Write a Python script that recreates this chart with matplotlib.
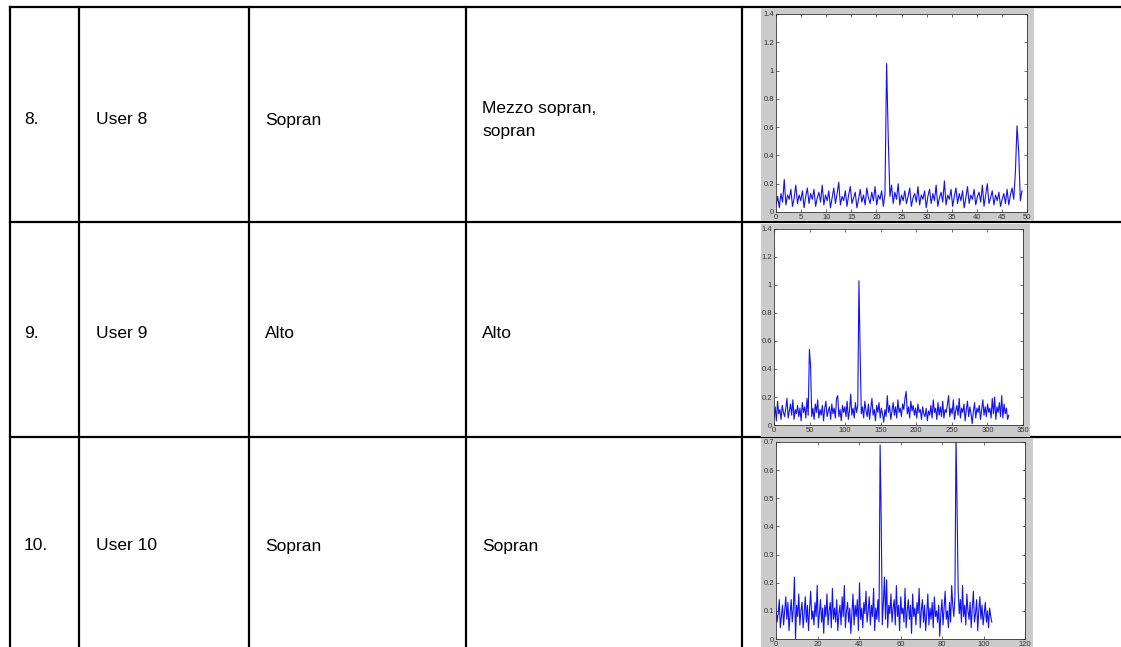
import matplotlib
matplotlib.use('Agg')
import matplotlib.pyplot as plt
from matplotlib.lines import Line2D
from matplotlib.patches import Rectangle
from matplotlib.ticker import FormatStrFormatter
import numpy as np

W, H = 1121, 647

# table contents
row_numbers = ['8.', '9.', '10.']
users = ['User 8', 'User 9', 'User 10']
voice_actual = ['Sopran', 'Alto', 'Sopran']
voice_detected = ['Mezzo sopran,\nsopran', 'Alto', 'Sopran']

# spectra
spec8 = [
    0.04, 0.11, 0.03, 0.13, 0.07, 0.23, 0.05, 0.12, 0.09, 0.16,
    0.04, 0.10, 0.19, 0.06, 0.12, 0.08, 0.15, 0.03, 0.11, 0.17,
    0.06, 0.13, 0.09, 0.16, 0.04, 0.10, 0.14, 0.07, 0.19, 0.05,
    0.12, 0.08, 0.15, 0.03, 0.10, 0.17, 0.06, 0.13, 0.21, 0.05,
    0.11, 0.08, 0.15, 0.04, 0.12, 0.18, 0.06, 0.10, 0.14, 0.03,
    0.09, 0.16, 0.07, 0.12, 0.05, 0.17, 0.10, 0.06, 0.14, 0.08,
    0.18, 0.05, 0.12, 0.09, 0.15, 0.04, 0.13, 1.05, 0.52, 0.11,
    0.19, 0.06, 0.14, 0.09, 0.20, 0.05, 0.12, 0.08, 0.15, 0.06,
    0.11, 0.17, 0.04, 0.10, 0.13, 0.07, 0.18, 0.05, 0.12, 0.09,
    0.15, 0.03, 0.11, 0.16, 0.06, 0.13, 0.08, 0.19, 0.04, 0.10,
    0.14, 0.07, 0.22, 0.05, 0.12, 0.09, 0.16, 0.04, 0.11, 0.17,
    0.06, 0.13, 0.08, 0.15, 0.03, 0.10, 0.18, 0.06, 0.12, 0.09,
    0.16, 0.05, 0.11, 0.14, 0.07, 0.19, 0.04, 0.12, 0.20, 0.06,
    0.10, 0.15, 0.05, 0.12, 0.08, 0.14, 0.04, 0.09, 0.13, 0.06,
    0.16, 0.05, 0.12, 0.17, 0.09, 0.28, 0.61, 0.43, 0.08, 0.15,
]
spec9 = [
    0.05, 0.13, 0.03, 0.17, 0.08, 0.11, 0.04, 0.14, 0.09, 0.06,
    0.12, 0.19, 0.05, 0.10, 0.15, 0.07, 0.18, 0.04, 0.11, 0.08,
    0.14, 0.06, 0.12, 0.03, 0.16, 0.09, 0.13, 0.05, 0.19, 0.07,
    0.54, 0.42, 0.06, 0.12, 0.04, 0.15, 0.09, 0.18, 0.05, 0.11,
    0.07, 0.14, 0.03, 0.12, 0.17, 0.06, 0.10, 0.13, 0.04, 0.15,
    0.08, 0.12, 0.05, 0.19, 0.21, 0.06, 0.11, 0.03, 0.14, 0.09,
    0.13, 0.06, 0.17, 0.04, 0.10, 0.22, 0.07, 0.12, 0.05, 0.16,
    0.09, 0.14, 1.03, 0.53, 0.08, 0.13, 0.05, 0.17, 0.10, 0.06,
    0.15, 0.04, 0.12, 0.19, 0.07, 0.11, 0.03, 0.14, 0.09, 0.16,
    0.05, 0.12, 0.08, 0.02, 0.11, 0.06, 0.21, 0.09, 0.14, 0.04,
    0.10, 0.16, 0.07, 0.13, 0.05, 0.18, 0.09, 0.12, 0.06, 0.15,
    0.11, 0.19, 0.24, 0.08, 0.13, 0.05, 0.17, 0.10, 0.14, 0.07,
    0.12, 0.05, 0.15, 0.09, 0.11, 0.04, 0.13, 0.08, 0.06, 0.12,
    0.03, 0.10, 0.07, 0.14, 0.05, 0.18, 0.09, 0.12, 0.04, 0.16,
    0.07, 0.13, 0.06, 0.17, 0.05, 0.11, 0.09, 0.15, 0.21, 0.06,
    0.12, 0.08, 0.18, 0.04, 0.10, 0.14, 0.07, 0.19, 0.05, 0.12,
    0.09, 0.15, 0.03, 0.11, 0.17, 0.06, 0.13, 0.08, 0.01, 0.10,
    0.16, 0.05, 0.12, 0.09, 0.14, 0.04, 0.11, 0.18, 0.07, 0.13,
    0.06, 0.15, 0.09, 0.12, 0.05, 0.19, 0.08, 0.20, 0.04, 0.13,
    0.09, 0.16, 0.06, 0.21, 0.05, 0.15, 0.08, 0.12, 0.04, 0.07,
]
spec10 = [
    0.11, 0.06, 0.09, 0.14, 0.04, 0.08, 0.12, 0.05, 0.10, 0.15,
    0.07, 0.13, 0.03, 0.09, 0.14, 0.06, 0.11, 0.22, 0.00, 0.12,
    0.08, 0.16, 0.05, 0.10, 0.13, 0.04, 0.09, 0.15, 0.06, 0.12,
    0.03, 0.11, 0.17, 0.07, 0.10, 0.05, 0.13, 0.08, 0.19, 0.04,
    0.09, 0.14, 0.06, 0.11, 0.02, 0.12, 0.08, 0.16, 0.05, 0.10,
    0.13, 0.04, 0.18, 0.07, 0.11, 0.06, 0.14, 0.03, 0.09, 0.12,
    0.05, 0.15, 0.08, 0.19, 0.04, 0.10, 0.13, 0.06, 0.11, 0.02,
    0.09, 0.16, 0.05, 0.12, 0.08, 0.14, 0.03, 0.20, 0.07, 0.11,
    0.04, 0.13, 0.09, 0.17, 0.06, 0.10, 0.15, 0.05, 0.12, 0.08,
    0.18, 0.03, 0.11, 0.07, 0.14, 0.06, 0.69, 0.43, 0.05, 0.13,
    0.22, 0.07, 0.21, 0.04, 0.12, 0.09, 0.16, 0.06, 0.11, 0.14,
    0.05, 0.19, 0.08, 0.12, 0.03, 0.15, 0.09, 0.11, 0.06, 0.18,
    0.04, 0.10, 0.14, 0.07, 0.12, 0.02, 0.16, 0.08, 0.11, 0.05,
    0.13, 0.09, 0.18, 0.04, 0.10, 0.14, 0.06, 0.12, 0.03, 0.09,
    0.16, 0.05, 0.11, 0.07, 0.13, 0.04, 0.15, 0.08, 0.10, 0.06,
    0.12, 0.01, 0.09, 0.14, 0.05, 0.11, 0.17, 0.07, 0.10, 0.04,
    0.13, 0.06, 0.19, 0.12, 0.08, 0.15, 0.72, 0.46, 0.17, 0.09,
    0.14, 0.06, 0.19, 0.08, 0.12, 0.05, 0.16, 0.10, 0.07, 0.13,
    0.04, 0.11, 0.17, 0.06, 0.09, 0.14, 0.03, 0.10, 0.15, 0.07,
    0.12, 0.05, 0.09, 0.13, 0.06, 0.10, 0.04, 0.11, 0.08, 0.06,
]
spectra = [spec8, spec9, spec10]
x_end = [49, 330, 104]
x_lims = [(0, 50), (0, 350), (0, 120)]
x_steps = [5, 50, 20]
y_lims = [(0, 1.4), (0, 1.4), (0, 0.7)]
y_steps = [0.2, 0.2, 0.1]


def fx(px):
    return px / W


def fy(py):
    return 1 - py / H


fig = plt.figure(figsize=(W / 100, H / 100), dpi=100)
fig.patch.set_facecolor('white')
plt.rcParams['font.family'] = ['Liberation Sans', 'DejaVu Sans']

# table grid
lw = 1.6
for y in [7, 222, 437]:
    fig.add_artist(Line2D([fx(10), fx(1121)], [fy(y), fy(y)], color='black', lw=lw))
for x in [10, 79, 249, 466, 742]:
    fig.add_artist(Line2D([fx(x), fx(x)], [fy(7), fy(647)], color='black', lw=lw))

row_centers = [120, 333, 546]
col_x = [24, 96, 265, 482]
for i, yc in enumerate(row_centers):
    cells = [row_numbers[i], users[i], voice_actual[i], voice_detected[i]]
    for cx, txt in zip(col_x, cells):
        fig.text(fx(cx), fy(yc), txt, ha='left', va='center', fontsize=12.5,
                 linespacing=1.7, color='black')

# embedded matlab-style plots: gray frame and axes box (pixels)
frames = [(761, 8, 1034, 221), (761, 224, 1030, 437), (761, 438, 1033, 647)]
boxes = [(776, 14, 1027, 212), (774, 229, 1023, 425), (776, 442, 1025, 639)]

for i in range(3):
    l, t, r, b = frames[i]
    fig.add_artist(Rectangle((fx(l), fy(b)), fx(r - l), (b - t) / H,
                             facecolor='#cbcbcb', edgecolor='none', zorder=2))
    l, t, r, b = boxes[i]
    ax = fig.add_axes([fx(l), fy(b), fx(r - l), (b - t) / H], zorder=3)
    y = np.array(spectra[i])
    x = np.linspace(0, x_end[i], len(y))
    ax.plot(x, y, color='#1010ff', lw=0.8)
    ax.set_xlim(*x_lims[i])
    ax.set_ylim(*y_lims[i])
    ax.set_xticks(np.arange(x_lims[i][0], x_lims[i][1] + 0.001, x_steps[i]))
    ax.set_yticks(np.round(np.arange(0, y_lims[i][1] + 0.001, y_steps[i]), 2))
    ax.xaxis.set_major_formatter(FormatStrFormatter('%g'))
    ax.yaxis.set_major_formatter(FormatStrFormatter('%g'))
    ax.tick_params(direction='in', length=2.5, width=0.5, labelsize=5.5,
                   colors='#333333', top=True, right=True, pad=1.5)
    for s in ax.spines.values():
        s.set_color('#333333')
        s.set_linewidth(0.6)

fig.savefig('out.png', dpi=100, facecolor='white')
